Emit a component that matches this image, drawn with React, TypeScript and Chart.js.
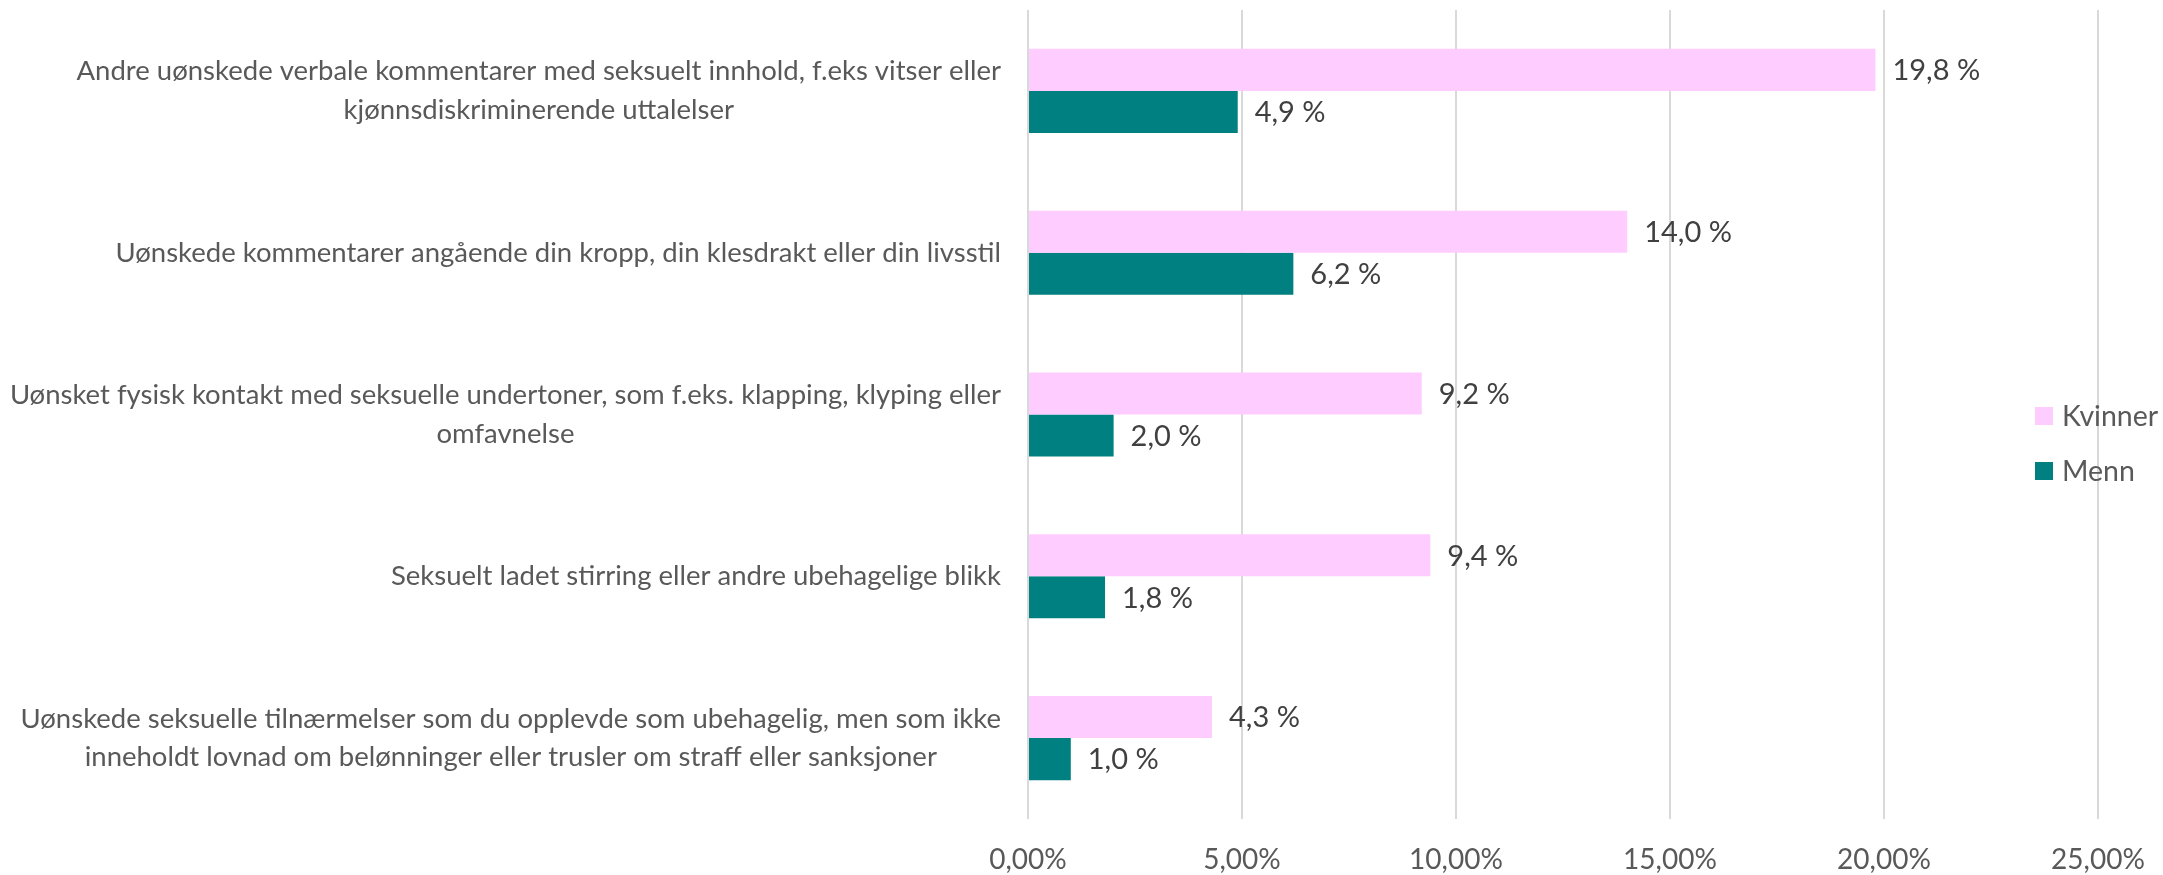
import React, { useEffect, useRef } from "react";
import { Chart, registerables } from "chart.js";

Chart.register(...registerables);

const categories: string[][] = [
  ["Andre uønskede verbale kommentarer med seksuelt innhold, f.eks vitser eller", "kjønnsdiskriminerende uttalelser"],
  ["Uønskede kommentarer angående din kropp, din klesdrakt eller din livsstil"],
  ["Uønsket fysisk kontakt med seksuelle undertoner, som f.eks. klapping, klyping eller", "omfavnelse"],
  ["Seksuelt ladet stirring eller andre ubehagelige blikk"],
  ["Uønskede seksuelle tilnærmelser som du opplevde som ubehagelig, men som ikke", "inneholdt lovnad om belønninger eller trusler om straff eller sanksjoner"],
];
const kvinner = [19.8, 14.0, 9.2, 9.4, 4.3];
const menn = [4.9, 6.2, 2.0, 1.8, 1.0];
const xTickValues = [0, 5, 10, 15, 20, 25];
const seriesNames = ["Kvinner", "Menn"];
const seriesColors = ["#FFCCFF", "#008080"];

const FONT = "Lato, 'Open Sans', sans-serif";
const CAT_SIZE = 27.5;
const TICK_SIZE = 28;
const DATA_SIZE = 29;
const LEGEND_SIZE = 28.5;

const fmtTick = (v: number) => v.toFixed(2).replace(".", ",") + "%";
const fmtData = (v: number) => v.toFixed(1).replace(".", ",") + " %";

const categoryLabelPlugin = {
  id: "categoryLabels",
  afterDraw(chart: any) {
    const ctx = chart.ctx;
    const y = chart.scales.y;
    const right = chart.chartArea.left - 27;
    const lh = 38.6;
    ctx.save();
    ctx.font = `${CAT_SIZE}px ${FONT}`;
    ctx.fillStyle = "#595959";
    ctx.textAlign = "center";
    ctx.textBaseline = "middle";
    categories.forEach((lines, i) => {
      const cy = y.getPixelForTick(i);
      const maxW = Math.max(...lines.map((l) => ctx.measureText(l).width));
      const cx = right - maxW / 2;
      lines.forEach((l, j) => {
        ctx.fillText(l, cx, cy + (j - (lines.length - 1) / 2) * lh);
      });
    });
    ctx.restore();
  },
};

const dataLabelPlugin = {
  id: "dataLabels",
  afterDatasetsDraw(chart: any) {
    const ctx = chart.ctx;
    ctx.save();
    ctx.font = `${DATA_SIZE}px ${FONT}`;
    ctx.fillStyle = "#404040";
    ctx.textAlign = "left";
    ctx.textBaseline = "middle";
    chart.data.datasets.forEach((ds: any, di: number) => {
      const meta = chart.getDatasetMeta(di);
      meta.data.forEach((el: any, i: number) => {
        ctx.fillText(fmtData(ds.data[i]), el.x + 17, el.y + 1);
      });
    });
    ctx.restore();
  },
};

const legendPlugin = {
  id: "sideLegend",
  afterDraw(chart: any) {
    const ctx = chart.ctx;
    ctx.save();
    ctx.font = `${LEGEND_SIZE}px ${FONT}`;
    ctx.textAlign = "left";
    ctx.textBaseline = "middle";
    const ys = [416, 471];
    seriesNames.forEach((name, i) => {
      ctx.fillStyle = seriesColors[i];
      ctx.fillRect(2035, ys[i] - 9, 18, 18);
      ctx.fillStyle = "#595959";
      ctx.fillText(name, 2062, ys[i] + 1);
    });
    ctx.restore();
  },
};

export default function App() {
  const ref = useRef<HTMLCanvasElement | null>(null);
  useEffect(() => {
    if (!ref.current) return;
    const chart = new Chart(ref.current, {
      type: "bar",
      data: {
        labels: categories.map((c) => c.join(" ")),
        datasets: [
          { label: seriesNames[0], data: kvinner, backgroundColor: seriesColors[0], categoryPercentage: 0.52, barPercentage: 1 },
          { label: seriesNames[1], data: menn, backgroundColor: seriesColors[1], categoryPercentage: 0.52, barPercentage: 1 },
        ],
      },
      options: {
        indexAxis: "y",
        responsive: false,
        animation: false,
        layout: { padding: { top: 10, right: 65, left: 0, bottom: 0 } },
        plugins: { legend: { display: false }, tooltip: { enabled: false } },
        scales: {
          x: {
            min: 0,
            max: 25,
            afterBuildTicks: (s: any) => {
              s.ticks = xTickValues.map((v) => ({ value: v }));
            },
            afterFit: (s: any) => {
              s.height = 56;
              s.paddingLeft = 0;
              s.paddingRight = 0;
            },
            grid: { color: "#D9D9D9", lineWidth: 2, drawTicks: false },
            border: { display: false },
            ticks: {
              padding: 24,
              color: "#595959",
              font: { family: FONT, size: TICK_SIZE },
              maxRotation: 0,
              autoSkip: false,
              callback: (v: any) => fmtTick(Number(v)),
            },
          },
          y: {
            afterFit: (s: any) => {
              s.width = 1028;
            },
            grid: { display: false },
            border: { display: false },
            ticks: { display: false },
          },
        },
      },
      plugins: [categoryLabelPlugin, dataLabelPlugin, legendPlugin],
    });
    return () => chart.destroy();
  }, []);
  return (
    <div style={{ position: "fixed", left: 0, top: 0, width: 2163, height: 875, background: "#fff" }}>
      <canvas ref={ref} width={2163} height={875} style={{ display: "block" }} />
    </div>
  );
}
